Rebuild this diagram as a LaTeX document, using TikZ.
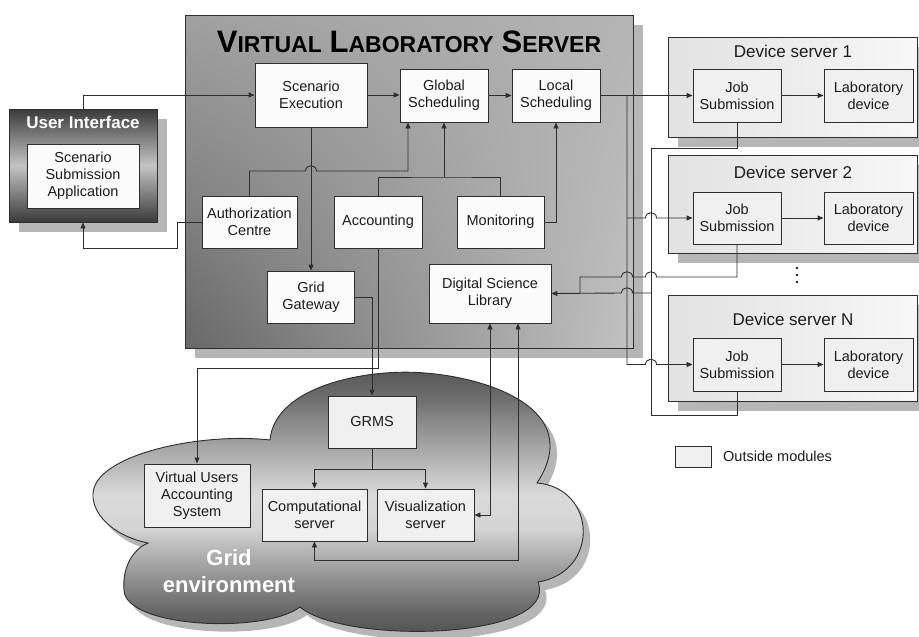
\documentclass[tikz,border=0pt]{standalone}
\usepackage{fontspec}
\setmainfont{Liberation Sans}
\usetikzlibrary{arrows.meta,calc,shadows,shadings}
\definecolor{ln}{HTML}{2E2E2E}
\definecolor{shd}{HTML}{B6B6B6}
\definecolor{obg}{HTML}{F0F0F0}
\definecolor{ibg}{HTML}{FBFBFB}
\definecolor{txt}{HTML}{1C1C1C}
\definecolor{vul}{HTML}{A0A0A0}
\definecolor{vur}{HTML}{B4B4B4}
\definecolor{vll}{HTML}{686868}
\definecolor{vlr}{HTML}{C2C2C2}
\definecolor{uid}{HTML}{3A3A3A}
\definecolor{uim}{HTML}{C4C4C4}
\definecolor{dsl}{HTML}{E2E2E2}
\definecolor{dsr}{HTML}{F7F7F7}
\definecolor{ca}{HTML}{4A4A4A}
\definecolor{cb}{HTML}{626262}
\definecolor{cc}{HTML}{9A9A9A}
\definecolor{cd}{HTML}{D4D4D4}
\definecolor{ce}{HTML}{DADADA}
\definecolor{cf}{HTML}{A0A0A0}
\definecolor{cg}{HTML}{6E6E6E}
\definecolor{ch}{HTML}{555555}
\pgfdeclareverticalshading{cloudshade}{100bp}{color(0bp)=(ca); color(25bp)=(ca); color(30.5bp)=(cb); color(38.3bp)=(cc); color(46.1bp)=(cd); color(52bp)=(ce); color(61.7bp)=(cf); color(69.5bp)=(cg); color(75bp)=(ch); color(100bp)=(ch)}
\newcommand{\vlsc}[2]{{\fontsize{31}{31}\selectfont #1}{\fontsize{23}{23}\selectfont #2}}
\begin{document}
\begin{tikzpicture}[x=1pt,y=-1pt,
  wh/.style 2 args={minimum width=#1pt,minimum height=#2pt},
  box/.style={draw=ln,line width=0.9pt,fill=ibg,align=center,inner sep=0pt,text=txt,font=\fontsize{14.5}{17}\selectfont},
  obox/.style={box,fill=obg},
  conn/.style={draw=ln,line width=0.9pt},
  arr/.style={conn,-{Triangle[length=6pt,width=5pt]}},
  arrb/.style={conn,{Triangle[length=6pt,width=5pt]}-{Triangle[length=6pt,width=5pt]}},
  sh/.style={drop shadow={shadow xshift=10pt,shadow yshift=-10pt,fill=shd,opacity=1}},
  dsbox/.style={draw=ln,line width=0.9pt,left color=dsl,right color=dsr,sh},
  ttl/.style={text=txt,font=\fontsize{17}{20}\selectfont},
]
\useasboundingbox (0,0) rectangle (919,637);

% ---------- big containers ----------
\node[draw=ln,line width=0.9pt,wh={448}{333},upper left=vul,upper right=vur,lower left=vll,lower right=vlr,sh] (vls) at (409,181.5) {};
\node[anchor=base,text=black,font=\fontsize{28}{28}\selectfont\bfseries] (vlst) at (409,52)
  {\vlsc{V}{IRTUAL} \vlsc{L}{ABORATORY} \vlsc{S}{ERVER}};

\node[draw=ln,line width=0.9pt,wh={148}{113},top color=uid,bottom color=uid,middle color=uim,sh] (ui) at (83,165.5) {};
\node[anchor=base,text=white,font=\fontsize{17}{20}\selectfont\bfseries] (uit) at (83,128) {User Interface};

% cloud
\def\cloudpath{(148,543) .. controls (110,535) and (92,512) .. (93,494)
  .. controls (94,455) and (200,432) .. (270,440)
  .. controls (275,385) and (370,368) .. (425,373)
  .. controls (490,378) and (585,410) .. (537,483)
  .. controls (597,488) and (600,572) .. (538,582)
  .. controls (560,640) and (345,645) .. (300,607)
  .. controls (265,634) and (125,628) .. (124,590)
  .. controls (122,565) and (135,548) .. (148,543) -- cycle}
\begin{scope}[shift={(7,8)}]
\fill[shd] \cloudpath;
\end{scope}
\path[draw=ln,line width=0.9pt,shading=cloudshade] \cloudpath;
\node[align=center,text=white,font=\fontsize{22}{27}\selectfont\bfseries,anchor=base] (ge) at (229,592) {Grid\\environment};

% device servers
\node[dsbox,wh={249}{100}] (ds1) at (792.5,87) {};
\node[dsbox,wh={249}{98}] (ds2) at (792.5,204) {};
\node[dsbox,wh={249}{106}] (dsn) at (792.5,348) {};
\node[ttl,anchor=base] (ds1t) at (793,57) {Device server 1};
\node[ttl,anchor=base] (ds2t) at (793,178) {Device server 2};
\node[ttl,anchor=base] (dsnt) at (793,325) {Device server N};
\foreach \yy in {268,275,282} \fill[txt] (797,\yy) circle (1.3);

% ---------- boxes ----------
\node[box,wh={112}{64}] (ssa) at (83,176) {Scenario\\Submission\\Application};
\node[box,wh={112}{64}] (se) at (311,95) {Scenario\\Execution};
\node[box,wh={88}{53}] (gs) at (444,95.5) {Global\\Scheduling};
\node[box,wh={88}{53}] (ls) at (556,95.5) {Local\\Scheduling};
\node[box,wh={95}{52}] (ac) at (249.5,222) {Authorization\\Centre};
\node[box,wh={88}{52}] (acc) at (378,222) {Accounting};
\node[box,wh={87}{52}] (mon) at (500.5,222) {Monitoring};
\node[box,wh={87}{52}] (gg) at (311,297) {Grid\\Gateway};
\node[box,wh={122}{59}] (dsl) at (490,293.5) {Digital Science\\Library};

\node[obox,wh={88}{53}] (js1) at (737,95.5) {Job\\Submission};
\node[obox,wh={89}{53}] (ld1) at (868.5,95.5) {Laboratory\\device};
\node[obox,wh={88}{52}] (js2) at (737,218) {Job\\Submission};
\node[obox,wh={89}{52}] (ld2) at (868.5,218) {Laboratory\\device};
\node[obox,wh={88}{53}] (jsn) at (737,364.5) {Job\\Submission};
\node[obox,wh={89}{53}] (ldn) at (868.5,364.5) {Laboratory\\device};

\node[obox,wh={88}{52}] (grms) at (372,422) {GRMS};
\node[obox,wh={106}{63}] (vuas) at (197,495.5) {Virtual Users\\Accounting\\System};
\node[obox,wh={105}{52}] (cs) at (314.5,515) {Computational\\server};
\node[obox,wh={97}{52}] (vs) at (425.5,515) {Visualization\\server};

\node[obox,wh={36}{21}] (leg) at (693,456.5) {};
\node[anchor=west,text=txt,font=\fontsize{14.5}{17}\selectfont,inner sep=0pt] (legt) at (723,456.5) {Outside modules};

% ---------- connectors ----------
\draw[arr] (ui.north) |- (se.west);
\draw[arr] (se.east) -- (se.east -| gs.west);
\draw[arr] (gs.east) -- (ls.west);
\draw[arr] (ls.east) -- (js1.west);
\draw[arr] (ld1.west -| js1.east) -- (ld1.west);
\draw[arr] (js2.east) -- (ld2.west);
\draw[arr] (jsn.east) -- (ldn.west);

% bus from local scheduling to device servers
\coordinate (b0) at (627,95.5);
\draw[arr] (b0) -- (627,364.5) -- (645.5,364.5) .. controls (645.5,357.5) and (656.5,357.5) .. (656.5,364.5) -- (jsn.west);
\draw[arr] (627,218) -- (645.5,218) .. controls (645.5,211) and (656.5,211) .. (656.5,218) -- (js2.west);

% returns from job submissions to the library
\draw[conn] (js1.south) -- (737,148) -- (651,148) -- (651,415) -- (737,415) -- (jsn.south);
\coordinate (r1) at (651,293);
\draw[arr] (r1) -- (632.5,293) .. controls (632.5,286) and (621.5,286) .. (621.5,293) -- (dsl.east);
\draw[conn] (js2.south) -- (737,277) -- (656.5,277) .. controls (656.5,270) and (645.5,270) .. (645.5,277)
  -- (632.5,277) .. controls (632.5,270) and (621.5,270) .. (621.5,277) -- (580,277) -- (580,293);

% inside the server
\draw[arr] (mon.east) -| (ls.south);
\coordinate (j1) at (444,177);
\draw[conn] (acc.north) |- (j1) -| (mon.north);
\draw[arr] (j1) -- (gs.south);
\draw[arr] (ac.north) |- (305.5,171) .. controls (305.5,164) and (316.5,164) .. (316.5,171) -- (408,171) -- ($(gs.south)+(-36,0)$);
\draw[arr] (se.south) -- (gg.north);
\coordinate (a1) at (177,222);
\draw[arr] (ac.west) -- (a1) |- (83,248) -- (ui.south);

% to the grid
\draw[arr] (gg.east) -| (grms.north);
\draw[arr] (acc.south) -- (378,368) -| (vuas.north);
\coordinate (j2) at (372,469);
\draw[conn] (grms.south) -- (j2);
\draw[arr] (j2) -| (cs.north);
\draw[arr] (j2) -| (vs.north);
\draw[arrb] (dsl.south) |- (vs.east);
\draw[arrb] ($(dsl.south)+(28,0)$) -- (518,560) -| (cs.south);
\end{tikzpicture}
\end{document}
